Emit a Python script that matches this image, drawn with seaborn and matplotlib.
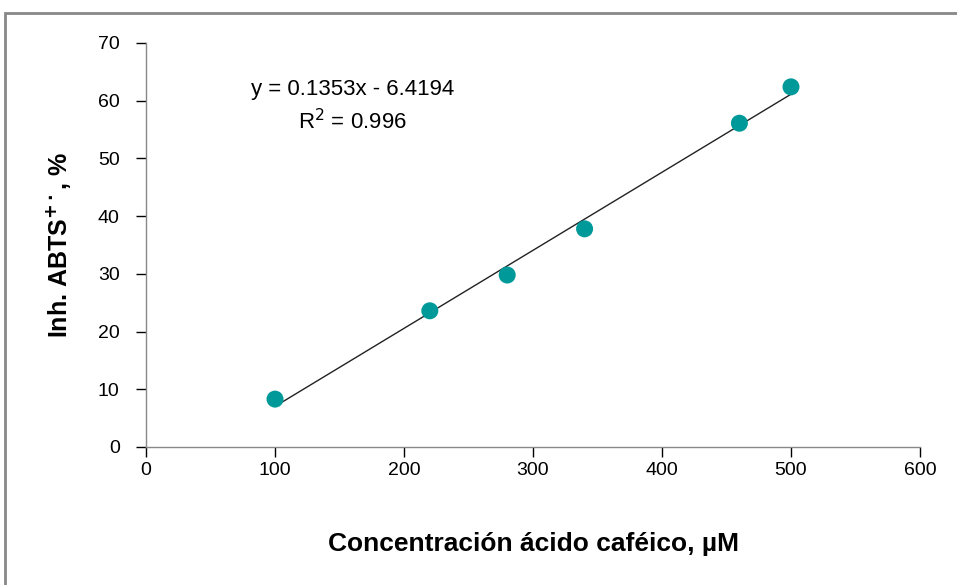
import numpy as np
import pandas as pd
import matplotlib
matplotlib.use("Agg")
import matplotlib.pyplot as plt
import seaborn as sns

conc = [100, 220, 280, 340, 460, 500]
inh = [8.3, 23.6, 29.8, 37.8, 56.1, 62.4]
eq_text = "y = 0.1353x - 6.4194"
r2_text = "R$^2$ = 0.996"

df = pd.DataFrame({"conc": conc, "inh": inh})

sns.set_theme(style="white")
plt.rcParams['font.family'] = ['Liberation Sans', 'DejaVu Sans']
plt.rcParams['text.color'] = 'black'
plt.rcParams['axes.labelcolor'] = 'black'
plt.rcParams['xtick.color'] = 'black'
plt.rcParams['ytick.color'] = 'black'

fig = plt.figure(figsize=(9.57, 5.85), dpi=100)
ax = fig.add_axes([0.1526, 0.2359, 0.8087, 0.6906])

sns.regplot(data=df, x="conc", y="inh", ax=ax, ci=None,
            scatter_kws=dict(s=150, color="#009999", alpha=1, edgecolor="none", zorder=3),
            line_kws=dict(color="#222222", lw=1.0, zorder=2))

ax.set_xlim(0, 600)
ax.set_ylim(0, 70)
ax.set_xticks(range(0, 601, 100))
ax.set_yticks(range(0, 71, 10))
ax.tick_params(axis="both", labelsize=14, length=7, width=1,
               direction="out", bottom=True, left=True)
ax.tick_params(axis="y", pad=12)
ax.tick_params(axis="x", pad=4)
for t in ax.get_xticklines() + ax.get_yticklines():
    t.set_color("#888888")
for side in ["top", "right"]:
    ax.spines[side].set_visible(False)
for side in ["left", "bottom"]:
    ax.spines[side].set_color("#888888")
    ax.spines[side].set_linewidth(1)

ax.set_xlabel("Concentración ácido caféico, µM", fontsize=19, fontweight="bold", labelpad=38)
ax.set_ylabel(r"Inh. ABTS$^{\mathbf{+\cdot}}$, %", fontsize=18, fontweight="bold", labelpad=18)

ax.text(160, 62.0, eq_text, fontsize=16, ha="center", va="center")
ax.text(160, 56.3, r2_text, fontsize=16, ha="center", va="center")

fig.patches.append(plt.Rectangle((0.005, -0.01), 1.2, 0.987, transform=fig.transFigure,
                                 fill=False, edgecolor="#888888", lw=2))

fig.savefig("out.png", dpi=100)
